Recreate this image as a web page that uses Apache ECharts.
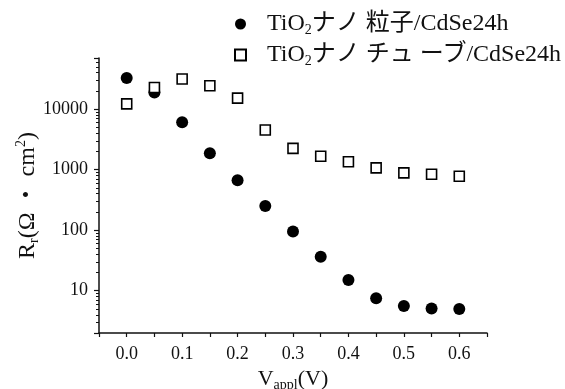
<!DOCTYPE html>
<html>
<head>
<meta charset="utf-8">
<script src="https://cdn.jsdelivr.net/npm/echarts@6/dist/echarts.min.js"></script>
<style>
  html, body { margin: 0; padding: 0; background: #fff; }
  #chart { width: 565px; height: 389px; }
</style>
</head>
<body>
<div id="chart"></div>
<script>
// applied voltage (V)
const voltages = [0.0, 0.05, 0.1, 0.15, 0.2, 0.25, 0.3, 0.35, 0.4, 0.45, 0.5, 0.55, 0.6];
// Rr (Ω·cm²)
const particleRr = [32700, 18900, 6080, 1860, 670, 250, 95, 36.5, 15, 7.5, 5.6, 5.1, 5.0];
const tubeRr = [12200, 22800, 31500, 24400, 15200, 4530, 2250, 1670, 1350, 1070, 885, 840, 780];
const seriesNames = ["TiO{sub|2}ナノ 粒子/CdSe24h", "TiO{sub|2}ナノ チュ ーブ/CdSe24h"];

const FONT = "'Liberation Serif', 'Noto Sans CJK JP', serif";
const INK = "#111";

const chart = echarts.init(document.getElementById("chart"));

const toPairs = (xs, ys) => xs.map((x, i) => [x, ys[i]]);

const isDecade = v => Math.abs(Math.log10(v) - Math.round(Math.log10(v))) < 1e-6;

chart.setOption({
  animation: false,
  textStyle: { fontFamily: FONT, color: INK },
  grid: { left: 99, right: 78, top: 58, bottom: 56, outerBoundsMode: "none", containLabel: false },
  legend: {
    orient: "vertical",
    left: 229,
    top: 5,
    itemGap: 4,
    itemWidth: 11,
    itemHeight: 11,
    data: [
      { name: seriesNames[0], icon: "circle" },
      { name: seriesNames[1], icon: "rect" }
    ],
    formatter: name => name,
    textStyle: {
      fontFamily: FONT,
      fontSize: 24,
      lineHeight: 26,
      color: INK,
      padding: [0, 0, 0, 16],
      rich: {
        sub: { fontFamily: FONT, fontSize: 14, lineHeight: 26, color: INK, verticalAlign: "bottom", padding: [13, 0, 0, 0] }
      }
    }
  },
  xAxis: {
    type: "value",
    min: -0.05,
    max: 0.65,
    interval: 0.05,
    splitLine: { show: false },
    axisLine: { onZero: false, lineStyle: { color: INK, width: 1.5 } },
    axisTick: { inside: false, length: 4, lineStyle: { color: INK, width: 1.2 } },
    axisLabel: {
      fontFamily: FONT,
      fontSize: 18,
      color: INK,
      margin: 12,
      formatter: v => {
        const k = Math.round(v * 100);
        if (k % 10 !== 0 || k < 0 || k > 60) return "";
        return (k / 100).toFixed(1);
      }
    },
    name: "V{sub|appl}(V)",
    nameLocation: "middle",
    nameGap: 31,
    nameTextStyle: {
      fontFamily: FONT,
      fontSize: 22,
      color: INK,
      rich: { sub: { fontFamily: FONT, fontSize: 14, color: INK, verticalAlign: "bottom", padding: [12, 0, 0, 0] } }
    }
  },
  yAxis: {
    type: "log",
    logBase: 10,
    min: 2,
    max: 70000,
    splitLine: { show: false },
    axisLine: { onZero: false, lineStyle: { color: INK, width: 1.5 } },
    axisTick: { inside: false, length: 5, lineStyle: { color: INK, width: 1.2 } },
    minorTick: { show: true, splitNumber: 9, length: 3, lineStyle: { color: INK } },
    axisLabel: {
      fontFamily: FONT,
      fontSize: 18,
      color: INK,
      margin: 11,
      formatter: v => (isDecade(v) ? String(Math.round(v)) : "")
    },
    name: "R{sub|r}(Ω ・ cm{sup|2})",
    nameLocation: "middle",
    nameGap: 58,
    nameMoveOverlap: false,
    nameTextStyle: {
      fontFamily: FONT,
      fontSize: 24,
      color: INK,
      rich: {
        sub: { fontFamily: FONT, fontSize: 14, color: INK, verticalAlign: "bottom", padding: [13, 0, 0, 0] },
        sup: { fontFamily: FONT, fontSize: 14, color: INK, verticalAlign: "top", padding: [0, 0, 13, 0] }
      }
    }
  },
  series: [
    {
      name: seriesNames[0],
      type: "scatter",
      symbol: "circle",
      symbolSize: 12,
      itemStyle: { color: "#000", opacity: 1 },
      data: toPairs(voltages, particleRr)
    },
    {
      name: seriesNames[1],
      type: "scatter",
      symbol: "rect",
      symbolSize: 10,
      itemStyle: { color: "#fff", borderColor: "#000", borderWidth: 1.6, opacity: 1 },
      data: toPairs(voltages, tubeRr)
    }
  ]
});
</script>
</body>
</html>
